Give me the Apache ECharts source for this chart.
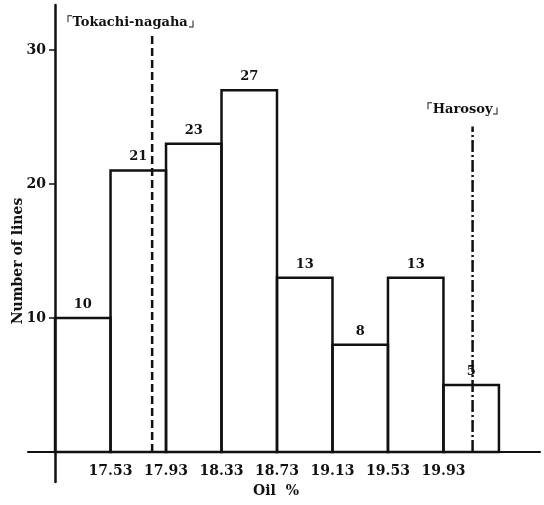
<!DOCTYPE html>
<html>
<head>
<meta charset="utf-8">
<script src="https://cdn.jsdelivr.net/npm/echarts@6/dist/echarts.min.js"></script>
<style>
  html, body { margin: 0; padding: 0; background: #fff; }
  #chart { width: 544px; height: 505px; }
</style>
</head>
<body>
<div id="chart"></div>
<script>
// oil % classes (lower / upper limit) and number of lines in each
var binLow = [17.13, 17.53, 17.93, 18.33, 18.73, 19.13, 19.53, 19.93];
var binHigh = [17.53, 17.93, 18.33, 18.73, 19.13, 19.53, 19.93, 20.33];
var lineCounts = [10, 21, 23, 27, 13, 8, 13, 5];
var xTickLabels = ['17.53', '17.93', '18.33', '18.73', '19.13', '19.53', '19.93'];
var yTickLabels = ['10', '20', '30'];
// parent varieties
var parentNames = ['「Tokachi-nagaha」', '「Harosoy」'];
var parentOil = [17.83, 20.14];

var SERIF = '"DejaVu Serif", "Liberation Serif", serif';
var INK = '#111';

var histData = binLow.map(function (lo, i) {
    return [lo, binHigh[i], lineCounts[i]];
});
var parentData = parentOil.map(function (v, i) {
    return [v, i];
});

var chart = echarts.init(document.getElementById('chart'));
var option = {
    backgroundColor: '#fff',
    animation: false,
    grid: { left: 28, right: 4, top: 5, bottom: 23, outerBoundsMode: 'none', containLabel: false },
    xAxis: {
        type: 'value',
        min: 16.935,
        max: 20.626,
        splitLine: { show: false },
        axisLine: { onZero: true, lineStyle: { color: INK, width: 2 } },
        axisTick: { show: false },
        axisLabel: {
            customValues: xTickLabels.map(Number),
            formatter: function (v) { return v.toFixed(2); },
            margin: -18,
            color: INK,
            fontFamily: SERIF,
            fontWeight: 'bold',
            fontSize: 14
        },
        name: 'Oil  %',
        nameLocation: 'middle',
        nameGap: 2,
        nameTextStyle: {
            color: INK, fontFamily: SERIF, fontWeight: 'bold', fontSize: 14,
            padding: [0, 16, 0, 0]
        }
    },
    yAxis: {
        type: 'value',
        min: -2.24,
        max: 33.36,
        offset: -27,
        splitLine: { show: false },
        axisLine: { lineStyle: { color: INK, width: 2.5 } },
        axisTick: {
            customValues: yTickLabels.map(Number),
            length: 6,
            lineStyle: { color: INK, width: 1.5 }
        },
        axisLabel: {
            customValues: yTickLabels.map(Number),
            margin: 9,
            color: INK,
            fontFamily: SERIF,
            fontWeight: 'bold',
            fontSize: 14
        }
    },
    graphic: [{
        type: 'text',
        x: 18,
        y: 261,
        rotation: Math.PI / 2,
        style: {
            text: 'Number of lines',
            fill: INK,
            font: 'bold 14px ' + SERIF,
            textAlign: 'center',
            textVerticalAlign: 'middle'
        }
    }],
    series: [
        {
            type: 'custom',
            name: 'lines',
            data: histData,
            encode: { x: [0, 1], y: 2 },
            renderItem: function (params, api) {
                var top = api.coord([api.value(0), api.value(2)]);
                var bottom = api.coord([api.value(1), 0]);
                return {
                    type: 'group',
                    children: [{
                        type: 'rect',
                        shape: {
                            x: top[0], y: top[1],
                            width: bottom[0] - top[0],
                            height: bottom[1] - top[1]
                        },
                        style: { fill: 'transparent', stroke: INK, lineWidth: 2.5 }
                    }, {
                        type: 'text',
                        style: {
                            text: String(api.value(2)),
                            x: (top[0] + bottom[0]) / 2,
                            y: top[1] - 7,
                            textAlign: 'center',
                            textVerticalAlign: 'bottom',
                            fill: INK,
                            font: 'bold 13px ' + SERIF
                        }
                    }]
                };
            }
        },
        {
            type: 'custom',
            name: 'parents',
            data: parentData,
            renderItem: function (params, api) {
                var i = params.dataIndex;
                var lineTop = [31.2, 24.3][i];
                var dash = [[8, 4], [12, 3, 2, 3]][i];
                var labelShift = [-22, -10][i];
                var labelGap = [11, 17][i];
                var p0 = api.coord([api.value(0), 0]);
                var p1 = api.coord([api.value(0), lineTop]);
                return {
                    type: 'group',
                    children: [{
                        type: 'line',
                        shape: { x1: p0[0], y1: p0[1], x2: p1[0], y2: p1[1] },
                        style: { stroke: INK, lineWidth: 2.5, lineDash: dash }
                    }, {
                        type: 'text',
                        style: {
                            text: parentNames[i],
                            x: p1[0] + labelShift,
                            y: p1[1] - labelGap,
                            textAlign: 'center',
                            textVerticalAlign: 'middle',
                            fill: INK,
                            font: 'bold 13px ' + SERIF
                        }
                    }]
                };
            }
        }
    ]
};
chart.setOption(option);
</script>
</body>
</html>
